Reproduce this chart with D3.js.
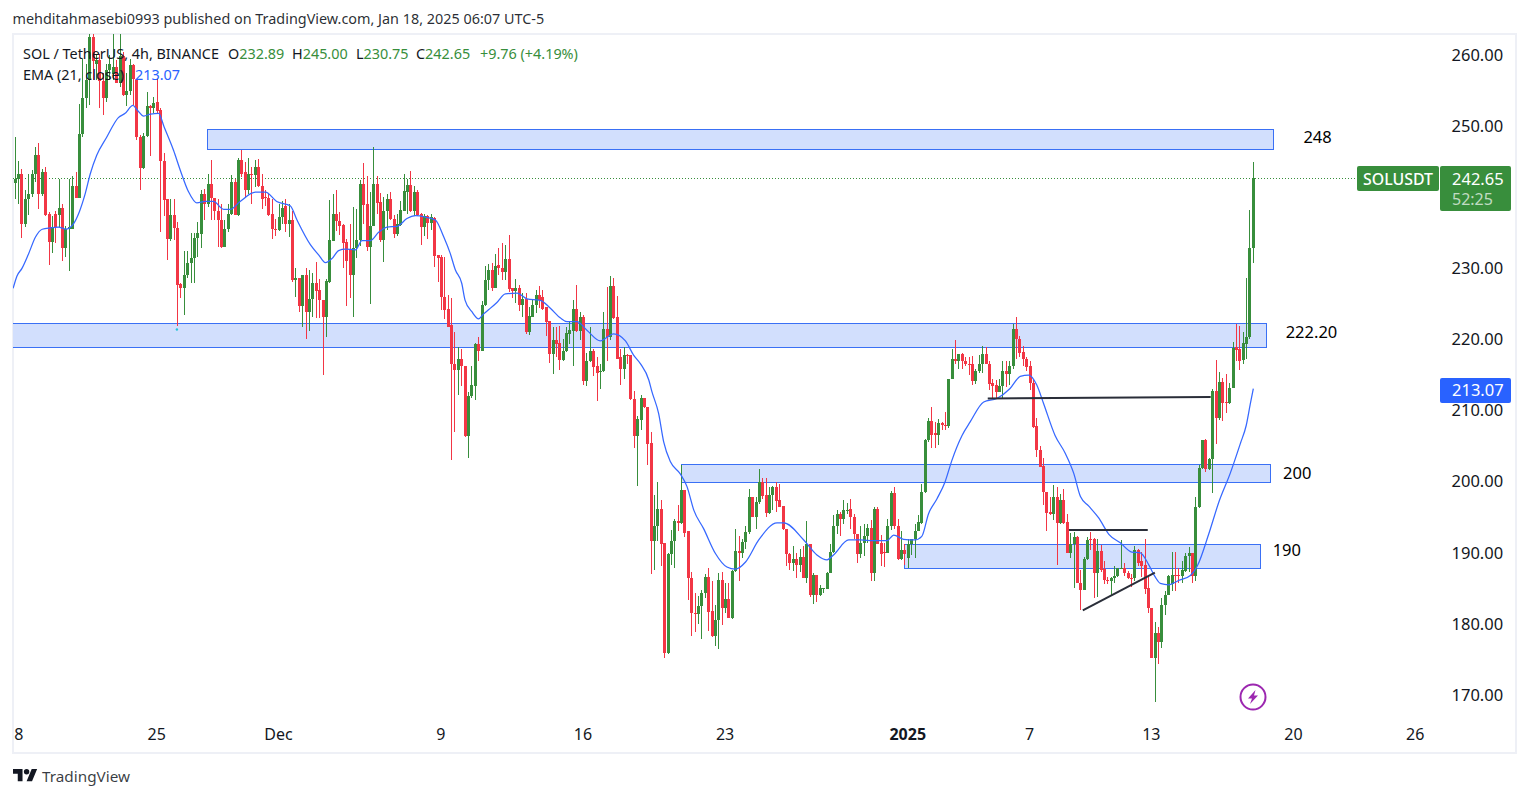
<!DOCTYPE html>
<html><head><meta charset="utf-8">
<script src="https://cdn.jsdelivr.net/npm/d3@7/dist/d3.min.js"></script>
<style>
html,body{margin:0;padding:0;background:#fff}
svg{display:block}
text{font-family:"Noto Sans",sans-serif}
</style></head><body>
<script>
const opens=[242,242.6,243.3,236.2,239.8,240.5,243.3,246,240.5,243.5,
237.6,233.7,237.6,237.5,238.5,232.9,235.5,235.6,241.6,239.9,
248.9,253.9,256.5,262.5,258.8,259.3,256.4,253.9,257.9,257.3,
258.3,256.1,259.8,254.4,254.9,258.6,256.6,248.5,244.1,248.6,
252.8,252.5,253.4,252.2,245.1,239.7,234.1,237.5,235.7,227.8,
227.3,229,230.7,231.5,234.3,234.8,240.5,239,241.9,239.9,
238,236.8,233,235.5,237.6,242.1,237.5,245.2,243.5,241,
243.3,243.1,244.3,241.6,240.1,239.9,237.6,235.6,235.4,237.2,
238.7,236.2,236.8,228.3,228.6,224.7,229.1,223.9,225.7,227.9,
226.9,225.5,223.2,228.1,233.9,237.7,236.6,236.1,233.7,232.7,
229.1,232.9,234,241.9,239.1,233,236,241.9,239.3,234,
238,239.7,236.9,234.8,236.1,238.1,240.8,241.7,238,240.8,
237.6,235.8,237.4,236.4,237.1,231.9,231.6,226,224.3,222,
216.6,215.7,217.3,216.3,206.4,212,213.5,219.4,218.4,224.8,
228.3,229.8,227.3,230.5,230,229.5,231.3,227.2,226.8,227.3,
224.8,225.7,221.1,223.2,224.8,226.2,225.9,224.5,222.6,218,
219.9,219.5,217.1,218.4,220.8,221.2,224.3,221.2,223.2,214.1,
217,218.4,216.3,215.5,215.5,221.5,220.3,227.5,223.1,217.5,
215.8,217.8,217.8,211.6,206.4,208.7,211.7,210.5,205.4,191.6,
193.7,196.2,191.4,175.9,189.8,191.6,194.5,194.2,198.8,193,
186.5,181.6,181.4,182.5,184.3,186.6,181.8,178.3,180.5,186.2,
182.2,183.5,180.8,187.4,190.2,189.9,191.5,192.9,197.9,195.1,
197.1,199.9,198.1,195.6,198.1,199.3,197.4,196.6,193.3,189.8,
188.6,189.1,188.3,189.4,186.5,191.3,184,186.9,184,184.9,
184.9,187.2,190.1,193.7,195.5,194.7,196,196.1,195.1,192.7,
189.8,191.4,192.3,193.5,187.2,196.1,191.4,190.1,190,193.7,
198.4,193.8,189.1,190.4,189.2,191.3,191.9,193,194.2,198.5,
205.8,208.5,206.8,206.6,208.2,208,207.8,214.5,217.3,217,
217.9,217,216.6,216.5,214.1,215.5,216.6,217.9,216.5,213.9,
213.6,212.6,213.4,215.5,215.1,216.2,221.5,220,218.2,217.3,
216.2,213.9,207.8,204.5,202.2,198.6,195.8,195.4,197.9,194.2,
197.4,194.3,190,191.2,192.2,185.8,184.8,189.1,191.9,191.9,
187.2,190.2,187.7,186.2,186,186.4,186.7,187.8,187.9,187.2,
186.5,186.4,190.4,188.8,188.3,185,182.3,175.2,178.7,177.4,
182.7,184.1,185.6,186.9,186.9,186.8,187.5,189.6,190,186.8,
196.4,201.9,205.8,201.8,203.2,212.7,208.9,214,211.2,211,
213.2,218.9,218.6,217.1,219.4,220.3,232.89];
const closes=[242.6,243.3,236.2,239.8,240.5,243.3,246,240.5,243.5,237.5,
233.7,235.8,235.8,238.5,232.9,235.6,235.8,241.6,239.9,248.9,
253.9,256.5,262.5,259.2,259.3,256.4,253.9,257.9,258.8,258.3,
256.1,259.8,254.4,254.9,258.6,256.6,248.4,244.1,248.6,252.8,
252.5,253.3,252.1,245.1,239.6,234.1,237.5,235.7,227.6,227.3,
229,230.7,231.5,234.3,235,240.5,239.1,241.9,239.9,238,
236.8,233,235.5,237.6,242.1,237.5,245.2,243.3,241,243.3,
243.1,244.3,241.6,239.7,239.9,237.5,235.5,235.5,237.2,238.5,
236.3,236.8,228.3,228.6,224.7,229.1,223.9,225.7,227.9,226.8,
225.5,223.2,228.2,234,237.7,236.6,236,233.6,231,229.1,
232.9,234,241.9,238.9,233,236,241.9,239.2,234,238.1,
239.7,236.9,234.8,236.2,238.2,240.9,241.7,238,240.8,237.5,
235.8,237.4,236.4,237.2,231.7,231.4,225.9,224.1,221.8,216.6,
215.7,217.3,216.2,206.4,212,213.6,219.4,218.4,224.8,228.4,
229.8,227.3,230.3,230,229.5,231.3,227.1,226.8,227.2,224.8,
225.7,221.1,223.3,224.8,226.2,225.5,224.3,222.5,218,219.9,
219.4,217.1,218.4,220.9,221.3,224.3,221.2,223.1,214.1,217,
218.4,216.1,215.3,215.5,221.5,220.3,227.5,223,217.3,215.8,
217.8,217.7,211.6,206.4,208.8,211.7,210.5,205.3,191.6,193.7,
196.2,191.3,175.9,189.8,191.6,194.5,194.2,198.8,192.8,186.5,
181.5,181.4,182.5,184.3,186.6,181.7,178.3,180.5,186.2,182.2,
183.5,180.8,187.4,190.2,189.9,191.5,192.9,197.9,195.1,197.1,
199.9,198,195.6,198.1,199.3,197.3,196.5,193.3,189.8,188.6,
189.1,188.3,189.4,186.5,191.3,184,186.9,184,185,185,
187.2,190.1,193.8,195.5,194.7,196,196,195,192.6,189.8,
191.4,192.4,193.5,187.2,196.2,191.3,189.8,190,193.8,198.4,
193.7,189.1,190.4,189.8,191.3,191.9,193.1,194.3,198.6,205.9,
208.5,206.6,206.6,208.3,208,207.9,214.5,217.3,217,217.9,
216.9,216.5,216.4,214.2,215.5,216.6,217.9,216.5,213.7,213.4,
212.6,213.4,215.5,215.1,216.2,221.5,220,218.1,217.2,216.1,
213.9,207.7,204.5,202.1,198.6,195.6,195.4,197.9,194.2,197.4,
194.2,190,191.2,192.2,185.8,184.8,189.1,191.8,191.8,187.2,
190.2,187.6,186.2,186.1,186.4,186.8,187.8,187.9,187.1,186.4,
186.4,190.4,188.6,188.2,184.9,182.2,175.2,178.7,177.4,182.7,
184.1,186.8,186.9,186.7,186.8,187.6,189.6,190,186.8,196.4,
201.9,205.8,201.8,203.2,212.7,208.9,214,211.1,211,213.2,
218.8,218.5,217,219.5,220.4,232.9,242.65];
const highs=[248.5,245.1,243.9,241,243.3,243.8,247,247.6,244,244.2,
237.9,237.4,238,242.5,239.1,235.9,242.5,243,243.5,253.1,
259.5,258.8,264,264,260.2,260.2,257.4,258.8,260,264,
259.3,264,260.4,257.4,259.5,258.8,256.6,248.7,249,254.8,
253,254.1,256.7,252.6,246.2,239.8,239.7,239.8,236.5,227.9,
232.5,232.5,234.9,234.9,236.5,241,241.1,243.3,245.3,239.9,
239.8,239.1,236.8,239.1,243.1,242.5,245.5,246.7,245,245.5,
244.3,245.2,245.4,243.3,241,240.5,239.8,237,239.1,239.4,
239.8,239.1,238,230,228.6,229.1,230,229.7,229.3,230.9,
228.5,225.5,228.5,239.6,240.5,241,237.9,236.2,234.1,236.2,
238.6,238.3,242.4,244.8,243,240.8,247.1,243,240.6,240,
240.5,240.8,237.5,237.7,239.4,243.2,242.6,243.7,241.6,241,
237.8,237.7,237.5,237.7,237.2,231.9,231.9,231.6,226.2,225.8,
221.1,218.9,218.7,216.3,212.6,216.2,219.5,220.4,225.4,230.3,
230.6,230.8,232,232.9,233.5,233.3,234.7,227.2,228.5,227.6,
226.5,226.5,224.6,225.5,227,227.5,227,224.6,222.6,221.8,
221.8,221.9,220.1,221.8,222.5,225.5,227.6,223.9,223.4,218.1,
221.8,218.7,217.5,216.6,223.9,227.4,228.9,228.6,226.1,218.7,
218.9,218,217.8,212.7,209.2,212.2,211.7,210.5,207,198.1,
199.9,197.4,191.4,190,193.2,194.7,196.7,202.3,198.8,193,
187.3,184.3,183.9,184.8,187,187.8,186,182.6,187.2,187.3,
185.7,185.8,187.6,193.4,192.4,192,193.7,198.9,197.9,197.9,
201.8,200.5,200.5,199.3,199.4,200,199.7,196.6,193.3,190,
190.9,189.9,190.6,190.9,194.4,191.3,187.2,186.9,185.5,185,
187.3,191.3,195.3,196,195.8,197.4,197,197.6,195.4,192.7,
193.8,194.1,194,194.6,196.5,196.4,192.5,191.4,194.8,198.7,
199.2,194.7,193,191.3,191.9,192,194.1,195.3,199.7,206,
209,210.5,208.4,208.8,208.4,209.8,214.5,218.6,219.9,218,
218.1,217.6,217.5,217.7,215.9,217.8,219.1,219,216.9,214.5,
214.3,214.5,216.9,217,216.9,222.2,223.2,220.5,219.1,217.6,
216.9,214.3,209,205,203.3,198.6,197.9,199.5,199.3,198.2,
199,195.5,192.8,192.9,192.3,187.6,189.4,192.2,192.9,192.1,
192,191.1,188.8,186.6,186.6,188.2,187.9,191.8,188.6,187.4,
187,190.9,190.6,190.1,191.9,186.6,182.3,180.2,179.5,183.7,
184.6,186.9,190.1,190.1,187.8,188.8,189.9,190.8,190,197.9,
202.4,205.9,206,203.3,213,217.1,215.4,214.6,215.2,213.9,
219.7,222.2,221.9,221.1,228.7,238.2,245];
const lows=[239.8,239.1,234.2,235.8,237.5,240,242.2,238.4,240.2,237.3,
230.5,232.1,233.5,235.8,231.1,231.6,229.6,235.6,239.9,239.9,
248.5,252.5,253,256.5,256.5,252.6,251.5,253.4,256.5,256.5,
256,255.5,254.2,252.8,254.4,253,248,241,243.9,248.5,
245.8,251.8,251.8,235.1,237.3,231.2,233.9,234,221.9,225.8,
223.4,228.6,227.9,227.9,231.6,232.8,236.8,238.6,236.8,236.8,
233,232.8,233,235.1,237.5,237.5,237.4,242.9,239.9,240.5,
239,241.5,241.5,238.4,238.8,237.4,234.1,234.5,235.3,236.3,
235.1,234.4,228.1,226,223.9,221.7,220.1,221.2,223.2,223,
223,215,220.4,227.9,233.9,235.2,234.7,230,224.7,225.8,
223.1,231.4,233.1,236.3,232.5,225,235.9,237.7,233.7,230.9,
235.4,236.8,234.2,234.5,235.9,238,237.7,237.9,237.4,237.3,
233.3,234.5,234.1,235.4,230.2,228.1,224.1,222.9,221.7,203,
207,212.2,213.4,206.3,203.3,211.7,211.5,217,218.4,224.7,
227,226.8,227.2,229.1,228.4,228.4,226.7,225.8,225.1,224,
223.2,220.8,220.6,223.2,223.7,224.4,224.1,220.5,216.7,215.1,
217.5,215.7,217,218.3,219.4,216.3,221.1,219.9,213.6,213.4,
216.8,214.8,211.4,213,215.4,217,219.9,222.9,217.2,213.6,
214.5,216.5,211.5,204.7,199.4,207.3,210.3,202.3,187,187.6,
191.7,188.1,175.2,175.8,188.3,187.9,193.1,194.1,192.2,183.3,
178.3,178.8,180,177.9,183.6,179,178.2,176.9,176.5,179.8,
181.6,180.8,180.7,187.3,186.1,189.2,190.6,192.7,195,193.3,
196.9,197.6,195.1,195.5,196,195.8,196.4,193.2,188.2,187.6,
187.5,186.5,187.3,186.4,185.7,183.8,182.8,183.1,183.9,184.4,
184.9,187.1,190,192.6,192.4,194.1,195.5,193.3,192,188.6,
189.2,189.6,191.4,186,186,191.3,188.2,188,189.9,193.2,
193.4,189,189,188.3,187.9,189.7,189.2,193,194.1,198.4,
205.6,204.7,204.7,205.1,207.2,207.2,207.6,214.4,216.5,215.8,
215.8,216.2,215,213.6,213.8,215.3,215.3,216.5,212.9,211.6,
211.6,212.6,211.7,213.3,213.6,215.9,217.3,217.6,216.2,215.6,
212.9,207.6,203.5,202,196.7,193.1,195.3,194.6,188.3,194.1,
194.1,189.9,189.2,185.1,185.7,181.9,184.7,189,190.4,183.6,
183.8,187.3,185.6,185.6,184,185.8,186.6,187.7,186.8,186.3,
185.2,186.1,188.1,186.6,184.2,181.6,175.2,169,174.4,176.6,
181.3,184,184.6,184.6,185.8,185.7,187.3,187.3,185.7,186.1,
196.3,201.8,201.3,201.7,198.4,205.3,208.7,208.5,209.7,210.9,
213.2,217,215.7,216.6,217.2,220,230.75];

const emaIndex=[-0.6,0.5,2,4,6,8,10.4,12.8,15,17,19,20.7,22.2,24.1,27,30.5,32.5,34.8,36,38,40,42.4,44,46.8,48.8,51.2,53.7,56.2,58.6,61.6,63.6,66.5,71,74,77.3,81.3,83.3,
87.3,89.7,91.7,93.7,95.6,97.6,100.6,102.5,105,107.5,109.9,112.9,115.8,118.3,121.3,124.2,126.7,128.6,130.1,132,133,135,137,138.5,140,142.4,144.9,148.4,151.3,155.2,158.2,161.2,163.1,166.1,169,173,176.9,180.4,182.8,184.8,
187.3,188.2,190.2,191.7,193.7,196.6,198.6,200.6,203.5,207,210.4,212.9,215.9,219.8,225.2,227.2,233.1,237,240,241.9,246.4,249.8,253.8,257.7,259.7,262.6,266,268,
270,272.5,274.9,276.9,279.9,282.3,286.3,290.2,294.1,297.1,299.6,302,304,307.4,310.4,312.9,314.9,317.3,320.3,323.3,326.7,330.1,332.6,335.1,337,338.5,341,343.9,347.4,349.4,352.8,355.8,359.2,362.2,363.9,365.1,366];
const emaValues=[227.2,228.9,230,232.1,234.4,235.5,235.7,235.8,235.5,236.1,238,240.5,243.3,245.9,248.4,251.2,251.8,252.9,252.3,251.4,251.7,251.8,249.9,246.6,243.8,240.8,239.2,239.4,239.4,238.3,238.3,239.4,240.7,240.7,239.4,238.8,236.8,
233.3,231.9,230.8,231.4,232.5,232.7,232.6,233.9,233.9,235.1,235.8,235.9,237,237.4,237.2,236.8,234.4,232.1,229.8,227.9,225.5,223.9,222.9,223.6,224.2,225.2,226.4,226.5,225.7,225.5,224.4,223,222.5,222.5,221.3,219.8,220.8,219.8,217.8,216.6,
214.3,212.7,209.6,205.6,202.8,201.1,199.3,196,193.4,189.9,188,187.7,188.7,191.8,194.2,194.2,191.8,189.7,189,189.7,191.8,191.8,191.7,191.7,192.5,191.9,191.8,192.3,
195.5,197.6,200,203,206.5,208.4,211.2,211.7,213.1,214.8,215,213.6,211,206.5,204,201.2,197.9,196.6,194.9,192.6,191.4,190.1,190,188.3,186.6,185.7,185.5,186.1,186.8,188.1,192.6,197.1,201.2,205.4,207.9,210.9,213.07];

const axisPrices=[170,180,190,200,210,220,230,250,260];
const dateTickIndex=[1.2,42,78,126,168,210,264,300,336,378,414];
const dateTickLabels=["8","25","Dec","9","16","23","2025","7","13","20","26"];

const zoneStart=[56.7,-1,196.9,262.8];
const zoneEnd=[371.9,369.7,371,368.1];
const zoneTop=[249.6,222.3,202.55,191.2];
const zoneBottom=[246.8,218.9,199.95,187.8];
const zoneLabels=["248","222.20","200","190"];
const zoneLabelIndex=[385,383.2,379,375.9];
const zoneLabelPrice=[248.5,221.15,201.35,190.4];

const trendStart=[287.5,311.5,315.6];
const trendEnd=[353.4,334.8,336.9];
const trendStartPrice=[211.7,193.2,181.9];
const trendEndPrice=[211.9,193.2,187.2];

const lastClose=242.65, lastEma=213.07;
const ohlcLabels=["O","H","L","C"], ohlcValues=["232.89","245.00","230.75","242.65"], ohlcX=[228,292,356,416];

const W=1529,H=798;
const GREEN="#388e3c",RED="#f23645",BLUE="#2962ff",INK="#131722";
const x=d3.scaleLinear().domain([0,366]).range([15.2,1253.3]);
const y=d3.scaleLinear().domain([170,260]).range([695,55]);
const pane={l:13,t:34,r:1516,b:753};

const svg=d3.select("body").append("svg").attr("width",W).attr("height",H);
svg.append("rect").attr("width",W).attr("height",H).attr("fill","#fff");
svg.append("defs").append("clipPath").attr("id","pane").append("rect")
  .attr("x",pane.l).attr("y",pane.t).attr("width",1424-pane.l+16).attr("height",pane.b-pane.t);

svg.append("text").attr("x",12.5).attr("y",24).attr("font-size",14.4).attr("fill",INK).attr("fill-opacity",.92)
  .text("mehditahmasebi0993 published on TradingView.com, Jan 18, 2025 06:07 UTC-5");

svg.append("rect").attr("x",pane.l).attr("y",pane.t).attr("width",pane.r-pane.l).attr("height",pane.b-pane.t)
  .attr("fill","#fff").attr("stroke","#eef0f6").attr("stroke-width",2);

const plot=svg.append("g").attr("clip-path","url(#pane)");

// zones
const px=v=>Math.round(v)+.5;
plot.append("g").selectAll("rect").data(zoneTop).join("rect")
  .attr("x",(d,i)=>px(x(zoneStart[i]))).attr("y",d=>px(y(d)))
  .attr("width",(d,i)=>Math.round(x(zoneEnd[i])-x(zoneStart[i])))
  .attr("height",(d,i)=>Math.round(y(zoneBottom[i])-y(d)))
  .attr("fill","#d2dffd").attr("stroke","#3a70f5").attr("stroke-width",1);

// last price dotted line
plot.append("line").attr("x1",pane.l).attr("x2",1357).attr("y1",px(y(lastClose)-.5)).attr("y2",px(y(lastClose)-.5))
  .attr("stroke",GREEN).attr("stroke-width",1).attr("stroke-dasharray","1 2");

// candles
const idx=d3.range(opens.length);
const col=i=>closes[i]>=opens[i]?GREEN:RED;
plot.append("g").attr("shape-rendering","crispEdges").selectAll("line").data(idx).join("line")
  .attr("x1",i=>px(x(i)-.5)).attr("x2",i=>px(x(i)-.5)).attr("y1",i=>y(highs[i])).attr("y2",i=>y(lows[i]))
  .attr("stroke",col).attr("stroke-width",1);
plot.append("g").attr("shape-rendering","crispEdges").selectAll("rect").data(idx).join("rect")
  .attr("x",i=>Math.round(x(i)-.5)-1).attr("width",3)
  .attr("y",i=>y(Math.max(opens[i],closes[i])))
  .attr("height",i=>Math.max(1,Math.abs(y(opens[i])-y(closes[i]))))
  .attr("fill",col);

// EMA
const emaPts=emaIndex.map((d,i)=>[d,emaValues[i]]);
plot.append("path").attr("d",d3.line().x(d=>x(d[0])).y(d=>y(d[1])).curve(d3.curveMonotoneX)(emaPts))
  .attr("fill","none").attr("stroke","#3668ff").attr("stroke-width",1.25);

// teal marker
plot.append("circle").attr("cx",x(47.8)).attr("cy",y(221.4)).attr("r",1.2).attr("fill","#26c6da");

// trend lines
plot.append("g").selectAll("line").data(trendStart).join("line")
  .attr("x1",d=>x(d)).attr("x2",(d,i)=>x(trendEnd[i]))
  .attr("y1",(d,i)=>y(trendStartPrice[i])).attr("y2",(d,i)=>y(trendEndPrice[i]))
  .attr("stroke","#2a2e39").attr("stroke-width",2);

// zone labels
plot.append("g").selectAll("text").data(zoneLabels).join("text")
  .attr("x",(d,i)=>x(zoneLabelIndex[i])).attr("y",(d,i)=>y(zoneLabelPrice[i]))
  .attr("text-anchor","middle").attr("dominant-baseline","central")
  .attr("font-size",16.5).attr("fill","#000").text(d=>d);

// axes
const yAxis=d3.axisRight(y).tickValues(axisPrices).tickSize(0).tickPadding(0).tickFormat(d3.format(".2f"));
const gy=svg.append("g").attr("transform","translate(1451.5,0)").call(yAxis);
gy.select(".domain").remove();
gy.selectAll("text").attr("font-size",16.5).attr("font-family",'"Noto Sans",sans-serif').attr("fill",INK);

const xAxis=d3.axisBottom(x).tickValues(dateTickIndex).tickSize(0).tickPadding(0)
  .tickFormat((d,i)=>dateTickLabels[i]);
const gx=svg.append("g").attr("transform","translate(-1,729)").call(xAxis);
gx.select(".domain").remove();
gx.selectAll("text").attr("font-size",16).attr("font-family",'"Noto Sans",sans-serif').attr("fill",INK)
  .attr("font-weight",(d,i)=>dateTickLabels[i]==="2025"?700:400);

// legend
const lg=svg.append("g").attr("font-size",14.4);
lg.append("text").attr("x",23).attr("y",59).attr("fill",INK).text("SOL / TetherUS, 4h, BINANCE");
ohlcLabels.forEach((k,i)=>{
  const t=lg.append("text").attr("x",ohlcX[i]).attr("y",59).attr("fill",INK).text(k);
  t.append("tspan").attr("fill",GREEN).text(ohlcValues[i]);
});
lg.append("text").attr("x",480).attr("y",59).attr("fill",GREEN).text("+9.76 (+4.19%)");
lg.append("text").attr("x",23).attr("y",80).attr("fill",INK).text("EMA (21, close)");
lg.append("text").attr("x",135).attr("y",80).attr("fill",BLUE).text("213.07");

// price tags
svg.append("rect").attr("x",1357).attr("y",166).attr("width",82).attr("height",25).attr("rx",2).attr("fill",GREEN);
svg.append("text").attr("x",1398).attr("y",184.5).attr("text-anchor","middle").attr("font-size",16).attr("font-weight",500).attr("fill","#fff").attr("textLength",70).attr("lengthAdjust","spacingAndGlyphs").text("SOLUSDT");
svg.append("rect").attr("x",1440).attr("y",166).attr("width",71).attr("height",45).attr("rx",2).attr("fill",GREEN);
svg.append("text").attr("x",1452).attr("y",184.5).attr("font-size",16.5).attr("fill","#fff").text(d3.format(".2f")(lastClose));
svg.append("text").attr("x",1452).attr("y",204.5).attr("font-size",16).attr("fill","#fff").attr("fill-opacity",.7).text("52:25");
svg.append("rect").attr("x",1440).attr("y",378).attr("width",71).attr("height",25).attr("rx",2).attr("fill",BLUE);
svg.append("text").attr("x",1452).attr("y",396).attr("font-size",16.5).attr("fill","#fff").text(d3.format(".2f")(lastEma));

// replay icon
const ic=svg.append("g").attr("transform","translate(1253,697)");
ic.append("circle").attr("r",12.5).attr("fill","#fff").attr("stroke","#9c27b0").attr("stroke-width",2);
ic.append("path").attr("d","M2.5-7 L-5 1.5 L-1 1.5 L-3 7 L5-1.5 L1-1.5 Z").attr("fill","#9c27b0");

// footer brand
const logo=svg.append("g").attr("transform","translate(13,766.3) scale(.68)").attr("fill",INK);
logo.append("path").attr("d","M14 22H7V11H0V4h14v18zM28 22h-8l7.5-18h8L28 22z");
logo.append("circle").attr("cx",20).attr("cy",8).attr("r",4);
svg.append("text").attr("x",42).attr("y",782).attr("font-size",15.3).attr("fill",INK).attr("fill-opacity",.85).text("TradingView");
</script>
</body></html>
